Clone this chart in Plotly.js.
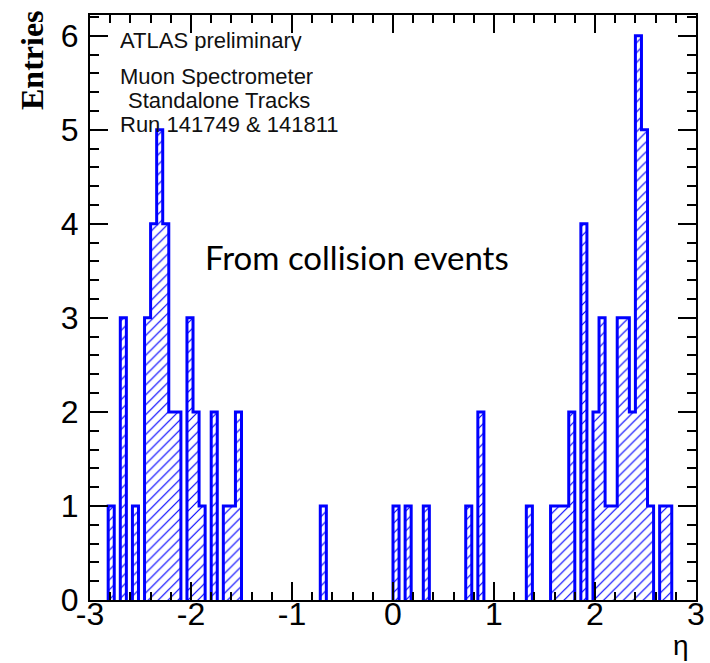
<!DOCTYPE html>
<html>
<head>
<meta charset="utf-8">
<script src="https://cdn.plot.ly/plotly-3.0.1.min.js"></script>
<style>
html,body{margin:0;padding:0;background:#fff;}
#chart{width:710px;height:663px;}
</style>
</head>
<body>
<div id="chart"></div>
<script>
// Histogram: 100 bins from -3 to 3 (bin width 0.06); only non-empty bins listed
var binWidth = 0.06;
var etaCenters = [-2.79, -2.67, -2.55, -2.43, -2.37, -2.31, -2.25, -2.19, -2.13, -2.01,
                  -1.95, -1.89, -1.77, -1.65, -1.59, -1.53, -0.69, 0.03, 0.15, 0.33,
                  0.75, 0.87, 1.35, 1.59, 1.65, 1.71, 1.77, 1.89, 2.01, 2.07,
                  2.13, 2.19, 2.25, 2.31, 2.37, 2.43, 2.49, 2.55, 2.67, 2.73];
var entries    = [1, 3, 1, 3, 4, 5, 4, 2, 2, 3,
                  2, 1, 2, 1, 1, 2, 1, 1, 1, 1,
                  1, 2, 1, 1, 1, 1, 2, 4, 2, 3,
                  1, 1, 3, 3, 2, 6, 5, 1, 1, 1];
var xTickVals = [-3, -2, -1, 0, 1, 2, 3];
var xTickText = ['-3', '-2', '-1', '0', '1', '2', '3'];
var yTickVals = [0, 1, 2, 3, 4, 5, 6];
var yTickText = ['0', '1', '2', '3', '4', '5', '6'];

var BLUE = '#0000ff';

// Build ROOT-style step outline for contiguous runs of filled bins
var ox = [], oy = [];
var i = 0;
while (i < etaCenters.length) {
  var j = i;
  while (j + 1 < etaCenters.length && Math.abs(etaCenters[j + 1] - etaCenters[j] - binWidth) < 1e-6) j++;
  var left = etaCenters[i] - binWidth / 2;
  ox.push(left); oy.push(0);
  for (var k = i; k <= j; k++) {
    var lo = etaCenters[k] - binWidth / 2, hi = etaCenters[k] + binWidth / 2;
    ox.push(lo); oy.push(entries[k]);
    ox.push(hi); oy.push(entries[k]);
  }
  ox.push(etaCenters[j] + binWidth / 2); oy.push(0);
  ox.push(null); oy.push(null);
  i = j + 1;
}

var bars = {
  type: 'bar',
  x: etaCenters,
  y: entries,
  width: binWidth,
  marker: {
    color: BLUE,
    line: {width: 0},
    pattern: {shape: '/', fillmode: 'replace', fgcolor: BLUE, bgcolor: '#ffffff', size: 7, solidity: 0.17}
  },
  hoverinfo: 'skip',
  showlegend: false
};

var outline = {
  type: 'scatter',
  mode: 'lines',
  x: ox,
  y: oy,
  line: {color: BLUE, width: 3, shape: 'linear'},
  connectgaps: false,
  hoverinfo: 'skip',
  showlegend: false
};

function pyPaper(p) { return (600 - p) / 585; }
function pxPaper(p) { return (p - 90) / 606; }

var txtFont = {family: 'Liberation Sans, Arial, sans-serif', size: 22, color: '#111'};

var layout = {
  width: 710, height: 663,
  margin: {l: 90, r: 14, t: 15, b: 63, pad: 0},
  paper_bgcolor: '#ffffff',
  plot_bgcolor: '#ffffff',
  bargap: 0,
  showlegend: false,
  xaxis: {
    range: [-3, 3],
    tickmode: 'array', tickvals: xTickVals, ticktext: xTickText,
    ticks: 'inside', ticklen: 18, tickwidth: 2, tickcolor: '#000',
    showline: true, linewidth: 2, linecolor: '#000', mirror: 'ticks',
    showgrid: false, zeroline: false,
    ticklabelstandoff: -15,
    tickfont: {family: 'Liberation Sans, Arial, sans-serif', size: 32, color: '#000'},
    minor: {tickmode: 'linear', tick0: 0, dtick: 0.2, ticks: 'inside', ticklen: 8, tickwidth: 2, tickcolor: '#000', showgrid: false}
  },
  yaxis: {
    range: [0, 6.22],
    tickmode: 'array', tickvals: yTickVals, ticktext: yTickText,
    ticks: 'inside', ticklen: 18, tickwidth: 2, tickcolor: '#000',
    showline: true, linewidth: 2, linecolor: '#000', mirror: 'ticks',
    showgrid: false, zeroline: false,
    ticklabelstandoff: 3,
    tickfont: {family: 'Liberation Sans, Arial, sans-serif', size: 32, color: '#000'},
    minor: {tickmode: 'linear', tick0: 0, dtick: 0.2, ticks: 'inside', ticklen: 9, tickwidth: 2, tickcolor: '#000', showgrid: false}
  },
  annotations: [
    {xref: 'paper', yref: 'paper', x: pxPaper(32), y: pyPaper(60), text: '<b>Entries</b>', textangle: -90,
     showarrow: false, xanchor: 'center', yanchor: 'middle',
     font: {family: 'Liberation Serif, Times New Roman, serif', size: 32, color: '#000'}},
    {xref: 'paper', yref: 'paper', x: pxPaper(681), y: pyPaper(645), text: 'η',
     showarrow: false, xanchor: 'center', yanchor: 'middle',
     font: {family: 'Liberation Sans, Arial, sans-serif', size: 28, color: '#000'}},
    {xref: 'paper', yref: 'paper', x: pxPaper(118), y: pyPaper(40), text: 'ATLAS preliminary',
     showarrow: false, xanchor: 'left', yanchor: 'middle', font: txtFont, height: 22},
    {xref: 'paper', yref: 'paper', x: pxPaper(118), y: pyPaper(76), text: 'Muon Spectrometer',
     showarrow: false, xanchor: 'left', yanchor: 'middle', font: txtFont, height: 22},
    {xref: 'paper', yref: 'paper', x: pxPaper(126), y: pyPaper(100), text: 'Standalone Tracks',
     showarrow: false, xanchor: 'left', yanchor: 'middle', font: txtFont, height: 22},
    {xref: 'paper', yref: 'paper', x: pxPaper(118), y: pyPaper(124), text: 'Run 141749 &amp; 141811',
     showarrow: false, xanchor: 'left', yanchor: 'middle', font: txtFont, height: 22},
    {xref: 'paper', yref: 'paper', x: pxPaper(203), y: pyPaper(257), text: 'From collision events',
     showarrow: false, xanchor: 'left', yanchor: 'middle',
     font: {family: 'Lato, Open Sans, sans-serif', size: 33, color: '#000'}}
  ]
};

Plotly.newPlot('chart', [bars, outline], layout, {displayModeBar: false, staticPlot: true});
</script>
</body>
</html>
